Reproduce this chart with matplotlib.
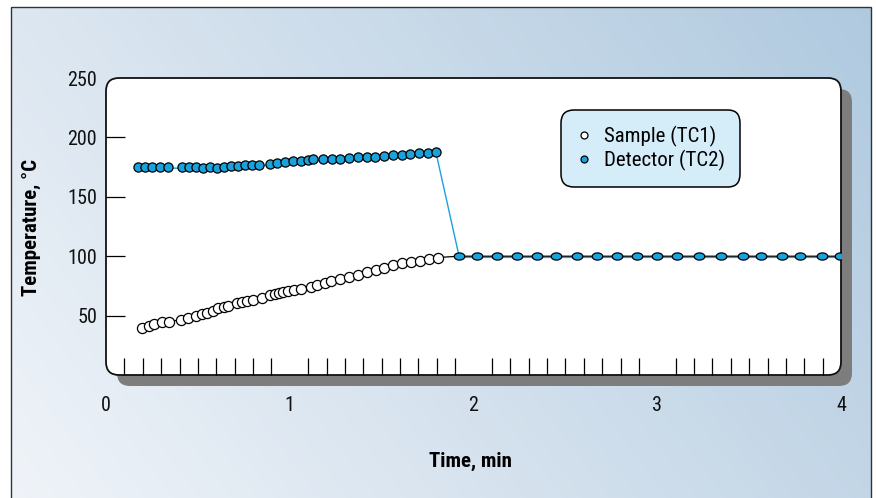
"""Sample vs detector thermocouple temperature during a heating run."""
import numpy as np
import matplotlib
matplotlib.use("Agg")
import matplotlib.pyplot as plt
from matplotlib.patches import FancyBboxPatch, Rectangle
from matplotlib.path import Path
from matplotlib.lines import Line2D
from matplotlib import transforms

# data
sample_time = [0.198, 0.236, 0.263, 0.303, 0.345, 0.406, 0.448, 0.488, 0.522, 0.548,
               0.584, 0.611, 0.642, 0.666, 0.711, 0.738, 0.766, 0.798, 0.847, 0.893,
               0.920, 0.943, 0.965, 0.992, 1.023, 1.061, 1.116, 1.147, 1.192, 1.223,
               1.273, 1.324, 1.373, 1.419, 1.468, 1.515, 1.564, 1.613, 1.660, 1.709,
               1.758, 1.805]
sample_temp = [39.5, 41.5, 42.9, 44.4, 44.9, 46.6, 47.7, 49.4, 51.4, 52.3,
               54.0, 56.2, 57.1, 58.2, 60.4, 61.6, 62.1, 63.0, 65.0, 67.2,
               68.4, 69.2, 69.8, 70.6, 71.5, 72.3, 74.3, 75.4, 77.7, 78.8,
               80.5, 82.5, 84.5, 86.4, 88.4, 90.4, 92.4, 94.3, 95.5, 96.3,
               97.5, 98.9]

detector_time = [0.176, 0.212, 0.252, 0.294, 0.336, 0.415, 0.454, 0.490, 0.530, 0.566,
                 0.606, 0.642, 0.679, 0.717, 0.756, 0.796, 0.834, 0.893, 0.932, 0.974,
                 1.016, 1.059, 1.101, 1.128, 1.179, 1.228, 1.273, 1.322, 1.370, 1.419,
                 1.464, 1.513, 1.560, 1.609, 1.654, 1.703, 1.751, 1.796]
detector_temp = [175.1, 175.1, 175.1, 175.1, 175.1, 175.1, 175.1, 175.1, 174.5, 175.1,
                 174.5, 175.1, 175.7, 176.0, 176.6, 176.6, 177.1, 178.0, 178.8, 179.4,
                 180.2, 180.2, 180.8, 181.4, 181.4, 181.6, 182.2, 182.5, 183.1, 183.3,
                 183.6, 184.5, 185.0, 185.3, 185.9, 186.7, 187.0, 188.1]

# after ~1.9 min both thermocouples read the same
steady_time = [1.923, 2.021, 2.130, 2.237, 2.344, 2.450, 2.561, 2.672, 2.781, 2.888,
               2.997, 3.106, 3.229, 3.347, 3.465, 3.564, 3.677, 3.777, 3.897, 3.995]
steady_temp = [100, 100, 100, 100, 100, 100, 100, 100, 100, 100,
               100, 100, 100, 100, 100, 100, 100, 100, 100, 100]

x_ticks = [0, 1, 2, 3, 4]
y_ticks = [50, 100, 150, 200, 250]
labels = ["Sample (TC1)", "Detector (TC2)"]

BLUE = "#19a2dc"
W, H = 876, 498
# plot box in pixels (left, top, right, bottom)
L, T, R, B = 106, 78, 841, 375

plt.rcParams["font.family"] = ["Roboto Condensed", "Roboto", "DejaVu Sans"]

fig = plt.figure(figsize=(W / 100, H / 100), dpi=100)
fig.patch.set_facecolor("white")

# decoration layer in pixel coordinates
bg = fig.add_axes([0, 0, 1, 1], zorder=0)
bg.set_xlim(0, W)
bg.set_ylim(H, 0)
bg.axis("off")

gx, gy = np.meshgrid(np.linspace(0, 1, 200), np.linspace(0, 1, 120))
t = np.clip(0.7 * gx + 0.3 * gy, 0, 1)[..., None]
c0 = np.array([0.94, 0.955, 0.975])
c1 = np.array([0.69, 0.79, 0.875])
grad = c0 + (c1 - c0) * t
bg.imshow(grad[::-1], extent=(11, 871, 500, 7), aspect="auto", origin="upper",
          interpolation="bilinear")
bg.add_patch(Rectangle((11, 7), 860, 495, fill=False, ec="#333333", lw=1.0))

box = "round,pad=0,rounding_size=13"
bg.add_patch(FancyBboxPatch((L + 11, T + 11), R - L, B - T, boxstyle=box,
                            fc="#7d7d7d", ec="none"))
bg.add_patch(FancyBboxPatch((L, T), R - L, B - T, boxstyle=box,
                            fc="white", ec="#111111", lw=1.3))

ax = fig.add_axes([L / W, 1 - B / H, (R - L) / W, (B - T) / H], zorder=1)
ax.set_facecolor("none")
for s in ax.spines.values():
    s.set_visible(False)
ax.set_xlim(0, 4)
ax.set_ylim(0, 250)

# ellipse marker for the steady part
th = np.linspace(0, 2 * np.pi, 40)
ellipse = Path(np.column_stack([np.cos(th), 0.68 * np.sin(th)]))

shift = transforms.offset_copy(ax.transData, fig=fig, x=0, y=-1.2, units="dots")

det_t = detector_time + steady_time
det_T = detector_temp + steady_temp
smp_t = sample_time + steady_time
smp_T = sample_temp + steady_temp

ax.plot(det_t, det_T, color=BLUE, lw=1.0, transform=shift, zorder=2)
ax.plot(smp_t, smp_T, color="black", lw=0.9, zorder=3)
ax.plot(sample_time, sample_temp, ls="none", marker="o", ms=7.3, mfc="white",
        mec="black", mew=0.9, zorder=4)
ax.plot(detector_time, detector_temp, ls="none", marker="o", ms=6.6, mfc=BLUE,
        mec="black", mew=0.9, zorder=4)
ax.plot(steady_time, steady_temp, ls="none", marker=ellipse, ms=7.6, mfc=BLUE,
        mec="black", mew=0.9, zorder=5)

# ticks
ax.set_xticks(x_ticks)
ax.set_xticks(np.arange(1, 40) / 10, minor=True)
ax.set_yticks(y_ticks)
ax.tick_params(axis="x", which="major", length=0, pad=15, labelsize=14.5)
ax.tick_params(axis="x", which="minor", direction="in", length=12, width=0.9)
ax.tick_params(axis="y", direction="in", length=14, width=0.9, pad=6.5, labelsize=14.5)
ax.tick_params(colors="black", labelcolor="#111111")
ax.yaxis.get_major_ticks()[-1].tick1line.set_visible(False)

# legend
handles = [
    Line2D([], [], ls="none", marker="o", ms=5, mfc="white", mec="black", mew=0.9),
    Line2D([], [], ls="none", marker="o", ms=5, mfc=BLUE, mec="black", mew=0.9),
]
leg = ax.legend(handles, labels, loc="upper left",
                bbox_to_anchor=((561 - L) / (R - L), (B - 110) / (B - T)),
                borderaxespad=0, fontsize=15, frameon=True, fancybox=True,
                facecolor="#d5ecf9", edgecolor="black", framealpha=1,
                handlelength=0.7, handletextpad=0.6, labelspacing=0.15,
                borderpad=0.75)
leg.get_frame().set_linewidth(1.1)
leg.get_frame().set_boxstyle("round", pad=0, rounding_size=0.6)

fig.text(31 / W, 1 - 227 / H, "Temperature, °C", rotation=90, ha="center",
         va="center", fontsize=15, fontweight="bold")
fig.text(470 / W, 1 - 461 / H, "Time, min", ha="center", va="center",
         fontsize=15, fontweight="bold")

fig.savefig("out.png", dpi=100)
